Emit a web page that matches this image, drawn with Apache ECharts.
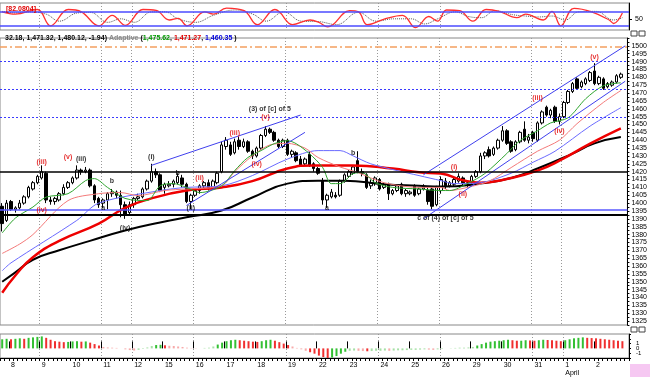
<!DOCTYPE html>
<html>
<head>
<meta charset="utf-8">
<script src="https://cdn.jsdelivr.net/npm/echarts@6/dist/echarts.min.js"></script>
<style>
html,body{margin:0;padding:0;background:#fff;}
#chart{width:650px;height:377px;}
</style>
</head>
<body>
<div id="chart"></div>
<script>
var FONT = 'Liberation Sans';

// trading days shown (first one only partly), hourly bars
var dayNames = ['5','8','9','10','11','12','15','16','17','18','19','22','23','24','25','26','29','30','31','1','2'];
var hours = ['10:00','11:00','12:00','13:00','14:00','15:00','16:00'];
// day boundaries that carry a dotted grid line
var gridDays = [9, 23, 30, 44, 65, 86, 100, 121, 128];

// hourly candles: [open, close, low, high]
var candles = [
 [1398,1387,1382,1400],[1389,1400,1388,1402],
 [1401,1396,1395,1402],[1396,1397,1394,1398],[1397,1400,1396,1402],[1400,1404,1399,1405],[1404,1410,1403,1411],[1409,1413,1408,1414],[1413,1417,1412,1418],
 [1416,1420,1415,1424],[1419,1402,1400,1420],[1402,1401,1399,1404],[1401,1403,1399,1404],[1402,1406,1401,1407],[1406,1410,1405,1412],[1410,1413,1409,1414],
 [1413,1416,1412,1417],[1416,1421,1415,1424],[1421,1420,1418,1422],[1420,1421,1419,1423],[1421,1411,1410,1422],[1411,1402,1400,1412],[1403,1399,1397,1404],
 [1400,1402,1397,1403],[1402,1406,1396,1407],[1406,1407,1404,1409],[1407,1405,1403,1408],[1405,1399,1391,1408],[1399,1393,1390,1401],[1394,1399,1392,1401],
 [1399,1403,1397,1404],[1403,1404,1402,1406],[1404,1409,1403,1410],[1409,1414,1408,1415],[1414,1420,1413,1425],[1420,1418,1416,1422],[1418,1408,1407,1419],
 [1410,1412,1406,1413],[1411,1412,1410,1414],[1412,1414,1410,1415],[1413,1417,1412,1419],[1416,1412,1410,1418],[1412,1401,1400,1413],[1401,1405,1396,1406],
 [1405,1408,1404,1409],[1408,1411,1406,1412],[1411,1413,1409,1414],[1413,1410,1408,1415],[1410,1414,1409,1415],[1413,1419,1412,1420],[1420,1437,1419,1439],
 [1436,1440,1434,1442],[1437,1431,1430,1439],[1432,1439,1431,1441],[1440,1436,1434,1442],[1436,1439,1435,1441],[1439,1433,1432,1440],[1433,1430,1428,1434],
 [1430,1435,1429,1436],[1435,1443,1434,1444],[1443,1447,1442,1449],[1447,1445,1444,1448],[1445,1440,1439,1446],[1440,1436,1435,1441],[1436,1440,1435,1441],
 [1440,1431,1430,1441],[1431,1433,1429,1434],[1432,1427,1426,1433],[1428,1424,1423,1430],[1425,1428,1424,1429],[1431,1424,1423,1433],[1425,1422,1420,1426],
 [1422,1419,1418,1423],[1414,1402,1399,1416],[1402,1405,1397,1406],[1404,1407,1403,1409],[1405,1404,1403,1407],[1405,1414,1404,1415],[1414,1418,1413,1419],
 [1417,1420,1416,1421],[1419,1423,1418,1424],[1427,1420,1419,1433],[1420,1419,1417,1422],[1418,1410,1409,1419],[1411,1413,1409,1415],[1413,1416,1411,1417],
 [1415,1409,1408,1416],[1410,1412,1409,1413],[1412,1406,1402,1413],[1406,1408,1405,1409],[1408,1411,1407,1412],[1412,1406,1405,1413],[1406,1408,1404,1409],
 [1406,1407,1405,1408],[1411,1405,1404,1412],[1406,1409,1405,1410],[1409,1410,1408,1412],[1408,1401,1399,1410],[1409,1398,1396,1410],[1399,1410,1398,1411],
 [1408,1415,1406,1417],[1414,1411,1409,1416],[1411,1413,1410,1414],[1412,1415,1411,1416],[1414,1417,1413,1419],[1416,1413,1411,1417],[1412,1413,1410,1414],
 [1413,1417,1412,1418],[1417,1420,1416,1421],[1420,1430,1419,1432],[1430,1432,1428,1433],[1434,1430,1429,1436],[1431,1435,1430,1436],[1435,1440,1434,1441],
 [1440,1446,1439,1449],[1446,1438,1437,1447],[1439,1433,1432,1440],[1434,1439,1433,1440],[1439,1445,1438,1446],[1447,1440,1439,1452],[1440,1442,1438,1444],
 [1445,1441,1439,1446],[1440,1451,1439,1452],[1451,1458,1450,1459],[1461,1456,1455,1462],[1456,1459,1454,1460],[1461,1452,1451,1462],[1452,1455,1450,1457],
 [1455,1464,1454,1465],[1464,1471,1463,1472],[1471,1476,1470,1477],[1479,1473,1472,1480],[1474,1477,1473,1478],[1476,1479,1475,1480],[1478,1483,1477,1484],
 [1484,1476,1475,1489],[1476,1480,1475,1481],[1479,1473,1472,1480],[1474,1476,1473,1477],[1475,1477,1474,1478],[1477,1481,1476,1482],[1480,1482,1479,1483]
];

// moving averages: [bar, price]
var maGreen = [[0,1381],[3,1390.5],[7,1397.5],[10,1403.8],[15,1406],[19,1414.3],[21,1415.6],[24,1410],[28,1403],[33,1401.6],[36,1411],[39,1412.4],[42,1410],[45,1406.7],[50,1411],[53,1420.7],[56,1429],[59,1433.4],[62,1437.8],[65,1439.7],[67,1437.8],[70,1431.5],[73,1422.8],[75,1412.4],[77,1412.4],[80,1418.8],[82,1419.4],[85,1413],[89,1410],[95,1409],[100,1408],[102,1408],[106,1412.4],[110,1418.8],[115,1431.5],[118,1439.7],[122,1446],[125,1451],[129,1454.3],[133,1466.4],[137,1474.6],[141,1476.5]];
var maPink = [[0,1368],[4,1374],[7,1380],[15,1401.6],[22,1406],[27,1406.7],[31,1404.8],[37,1408],[42,1409],[50,1411],[53,1420],[57,1430],[61,1437],[65,1438],[69,1435],[72,1429],[77,1423],[81,1419.5],[87,1413],[95,1410],[100,1410],[102,1408],[106,1410],[111,1414],[116,1422.6],[122,1433],[127,1440],[131,1450.5],[137,1464],[141,1471.6]];
var maBlue = [[0,1357],[2,1362],[17,1389],[22,1400],[36,1408],[42,1410],[50,1411],[57,1417.5],[65,1428],[72,1433.4],[77,1433.4],[80,1430],[84,1425],[90,1420.7],[95,1417.5],[100,1414.3],[103,1412.4],[109,1413],[116,1419],[121,1426],[126,1433],[134,1449],[141,1460.7]];
var maRed = [[0,1343],[3,1354],[7,1365.6],[13,1376],[22,1387],[28,1397],[34,1403],[42,1408],[50,1410],[57,1414],[65,1422],[71,1424],[80,1424],[89,1422],[95,1419.6],[100,1418.8],[105,1414.5],[109,1413],[116,1416],[122,1420.7],[127,1427],[134,1437.8],[141,1447.5]];
var maBlack = [[0,1350],[3,1356],[7,1364],[13,1370],[20,1376],[28,1382.6],[36,1387.7],[42,1391],[50,1395.3],[57,1403.6],[65,1412.4],[72,1414.3],[78,1414.3],[87,1412],[95,1411],[100,1410.5],[109,1412.4],[116,1416],[122,1422],[130,1431.5],[135,1438],[141,1442]];

// drawn trend lines: [bar, price]
var trendUpLeft = [[34,1424],[68,1456]];
var trendLowLeft = [[42,1398.5],[69,1445]];
var channelTop = [[96,1418],[142,1500]];
var channelBottom = [[96,1390],[142,1477.5]];

// horizontal levels
var levelsDotted = [1490.5, 1472.5, 1454.5];
var levelDashDot = 1499.3;
var levelBlack = [1420, 1392.3];
var levelBlue = 1396;

// wave labels: [bar, price, text]
var redLabels = [[9,1426,'(iii)'],[15,1429,'(v)'],[9,1395.3,'(iv)'],[45,1416,'(ii)'],[53,1444.8,'(iii)'],[58,1425,'(iv)'],[60,1455,'(v)'],[103,1423,'(i)'],[105,1406,'(ii)'],[122,1467,'(iii)'],[127,1446,'(iv)'],[135,1493,'(v)']];
var blackLabels = [[18,1428.3,'(iii)'],[25,1414.3,'b'],[23,1396.6,'a'],[28,1384,'(iv)'],[34,1429,'(i)'],[40,1419.4,'b'],[43,1396.6,'(ii)'],[61,1460,'(3) of [c] of 5'],[74,1396.6,'a'],[80,1432.1,'b'],[101,1390.2,'c of (4) of [c] of 5']];

// oscillator (top panel): [bar, value]
var oscFast = [[0,80],[3,70],[8,90],[11,20],[15,90],[18,80],[22,20],[25,65],[28,22],[32,90],[35,86],[38,45],[40,52],[42,20],[46,80],[48,70],[51,96],[55,85],[58,25],[62,90],[63,80],[66,25],[70,45],[72,35],[74,15],[79,85],[81,80],[83,25],[87,50],[91,65],[94,12],[97,60],[99,40],[101,88],[104,85],[107,40],[110,90],[113,82],[117,55],[119,70],[123,45],[125,82],[127,20],[130,95],[134,80],[138,45],[139,30],[141,75]];
var oscSlow = [[0,82],[3,75],[6,80],[10,70],[13,40],[17,75],[20,78],[24,35],[27,50],[30,35],[34,80],[37,80],[40,50],[44,35],[48,65],[53,88],[57,70],[60,40],[64,80],[68,40],[72,38],[76,25],[81,78],[85,40],[89,50],[93,50],[96,28],[99,50],[103,80],[106,60],[109,55],[112,85],[116,68],[119,62],[122,58],[125,62],[128,45],[131,80],[135,82],[139,45],[141,55]];
var oscBands = [80, 20];

// histogram (bottom panel), one value per bar
var histValues = [
 1.9,2.0,1.9,2.0,2.1,2.0,2.2,2.3,2.4,2.5,
 2.2,1.8,1.5,1.4,1.3,1.35,1.45,1.5,1.4,1.45,1.2,0.9,0.6,
 0.3,0.2,0.15,0.1,0.0,-0.2,-0.35,-0.45,-0.3,-0.1,
 0.2,0.5,0.7,0.75,0.65,0.55,0.5,0.4,0.3,0.15,
 0.05,-0.05,0.0,0.1,0.15,
 0.4,0.8,1.2,1.5,1.7,1.8,1.7,1.6,1.5,1.4,1.35,1.5,1.7,1.8,1.6,1.3,1.0,0.7,0.4,0.1,
 -0.2,-0.5,-0.8,-1.1,-1.5,-1.8,-2.0,-1.9,-1.6,-1.1,-0.7,-0.5,-0.45,
 -0.5,-0.55,-0.6,-0.55,-0.5,-0.5,-0.45,-0.5,-0.45,-0.4,-0.4,-0.35,-0.3,-0.3,-0.25,-0.2,-0.25,-0.3,-0.2,-0.1,
 0.0,0.05,0.1,0.15,0.15,0.2,0.3,
 0.6,0.9,1.2,1.4,1.5,1.6,1.7,1.8,1.7,1.6,1.6,1.7,1.65,1.6,1.7,1.8,1.75,1.7,1.6,1.5,1.7,1.9,2.1,2.2,2.3,2.2,2.15,2.1,2.0,1.9,1.8,1.7,1.6,1.5
];
var histTicks = [-1, 0, 1];

var mainTicks = [];
for (var t = 1325; t <= 1500; t += 5) mainTicks.push(t);

var categories = [];
var dayStarts = {};
dayNames.forEach(function(d, k){
	var hs = k === 0 ? hours.slice(5) : hours;
	if (k > 0) dayStarts[categories.length] = d;
	hs.forEach(function(h){ categories.push(d + ' ' + h); });
});
categories.push('');

var isGridDay = function(i){ return gridDays.indexOf(i) >= 0; };
var isDayStart = function(i){ return dayStarts[i] !== undefined; };

function catAxis(gi, extra){
	var ax = {
		type: 'category', gridIndex: gi, data: categories,
		axisLine: {show: false}, axisTick: {show: false}, axisLabel: {show: false},
		splitLine: {show: true, interval: isGridDay, lineStyle: {color: '#999', type: [1,2], width: 1}}
	};
	for (var k in extra) ax[k] = extra[k];
	return ax;
}

function labelData(list){
	return list.map(function(r){ return {name: r[2], value: [r[0], r[1]]}; });
}

function lineSeries(data, color, width, extra){
	var s = {
		type: 'line', xAxisIndex: 1, yAxisIndex: 1, data: data, showSymbol: false,
		smooth: 0.3, silent: true, lineStyle: {color: color, width: width}
	};
	for (var k in extra) s[k] = extra[k];
	return s;
}

function labelSeries(list, color){
	return {
		type: 'scatter', xAxisIndex: 1, yAxisIndex: 1, data: labelData(list), symbolSize: 0, silent: true, z: 10,
		itemStyle: {color: 'rgba(0,0,0,0)'},
		label: {show: true, position: 'inside', formatter: '{b}', color: color, fontSize: 7, fontWeight: 'bold', fontFamily: FONT}
	};
}

var levelLines = [];
levelsDotted.forEach(function(v){
	levelLines.push({yAxis: v, lineStyle: {color: '#3a3aff', type: [2,2], width: 1}});
});
levelLines.push({yAxis: levelDashDot, lineStyle: {color: '#f3a060', type: [7,3,2,3], width: 1.5}});
levelLines.push({yAxis: levelBlue, lineStyle: {color: '#5a5aff', type: 'solid', width: 1.5}});
levelBlack.forEach(function(v, i){
	levelLines.push({yAxis: v, lineStyle: {color: '#000', type: 'solid', width: i ? 2 : 1.5}});
});

var chart = echarts.init(document.getElementById('chart'));
var option = {
	animation: false,
	backgroundColor: '#fff',
	title: [
		{
			text: '[82.0804]', left: 1, top: 1,
			textStyle: {color: '#e00000', fontSize: 7, fontWeight: 'bold', fontFamily: FONT}
		},
		{
			text: '{k|32.18, 1,471.32, 1,480.12, -1.94)} {a|Adaptive} {k|(}{g|1,475.62}{k|,} {r|1,471.27}{k|,} {b|1,460.35}{k| )}',
			left: 0, top: 30,
			textStyle: {
				fontSize: 7, fontFamily: FONT,
				rich: {
					k: {color: '#000', fontSize: 7, fontWeight: 'bold', fontFamily: FONT},
					a: {color: '#888', fontSize: 7, fontFamily: FONT},
					g: {color: '#009900', fontSize: 7, fontWeight: 'bold', fontFamily: FONT},
					r: {color: '#e00000', fontSize: 7, fontWeight: 'bold', fontFamily: FONT},
					b: {color: '#0000dd', fontSize: 7, fontWeight: 'bold', fontFamily: FONT}
				}
			}
		}
	],
	grid: [
		{left: 0, right: 21, top: 3, height: 27, show: true, borderColor: '#888', borderWidth: 1},
		{left: 0, right: 21, top: 38, height: 287, show: true, borderColor: '#888', borderWidth: 1},
		{left: 0, right: 21, top: 334, height: 28, show: true, borderColor: '#888', borderWidth: 1}
	],
	xAxis: [
		catAxis(0, {}),
		catAxis(1, {}),
		catAxis(2, {
			axisLine: {show: true, onZero: false, lineStyle: {color: '#000', width: 1}},
			axisTick: {show: true, interval: 0, length: 3, lineStyle: {color: '#000'}},
			axisLabel: {
				show: true, interval: isDayStart, align: 'left', margin: 3,
				fontSize: 7, fontFamily: FONT, color: '#000', lineHeight: 8,
				formatter: function(v, i){
					var d = dayStarts[i];
					return d === '1' ? '1\nApril' : d;
				}
			}
		}),
		catAxis(2, {
			splitLine: {show: false},
			axisTick: {show: true, interval: isDayStart, length: 7, lineStyle: {color: '#000'}}
		})
	],
	yAxis: [
		{
			type: 'value', gridIndex: 0, position: 'right', min: 2, max: 118,
			splitLine: {show: false},
			axisLine: {show: true, lineStyle: {color: '#000'}},
			axisTick: {show: true, length: 3, customValues: [50]},
			axisLabel: {customValues: [50], fontSize: 7, fontFamily: FONT, color: '#000', margin: 6}
		},
		{
			type: 'value', gridIndex: 1, position: 'right', min: 1322.5, max: 1505, interval: 2.5,
			splitLine: {show: false},
			axisLine: {show: true, lineStyle: {color: '#000'}},
			axisTick: {show: true, length: 2, lineStyle: {color: '#000'}},
			axisLabel: {
				fontSize: 7, fontFamily: FONT, color: '#000', margin: 4,
				formatter: function(v){
					var r = Math.round(v * 10);
					return (r % 50 === 0 && mainTicks.indexOf(r / 10) >= 0) ? String(r / 10) : '';
				}
			}
		},
		{
			type: 'value', gridIndex: 2, position: 'right', min: -2, max: 3, interval: 1,
			splitLine: {show: false},
			axisLine: {show: true, lineStyle: {color: '#000'}},
			axisTick: {show: true, length: 2},
			axisLabel: {
				fontSize: 6, fontFamily: FONT, color: '#000', margin: 7, showMinLabel: true, showMaxLabel: true,
				formatter: function(v){ return histTicks.indexOf(v) >= 0 ? String(v) : ''; }
			}
		}
	],
	graphic: [
		{type: 'rect', shape: {x: 630, y: 364, width: 20, height: 13}, style: {fill: '#f6c8f2'}, silent: true},
		{type: 'rect', shape: {x: 631, y: 31, width: 6, height: 5}, style: {fill: '#fff', stroke: '#444', lineWidth: 1}, silent: true},
		{type: 'rect', shape: {x: 639, y: 31, width: 6, height: 5}, style: {fill: '#fff', stroke: '#444', lineWidth: 1}, silent: true},
		{type: 'rect', shape: {x: 631, y: 327, width: 6, height: 5}, style: {fill: '#fff', stroke: '#444', lineWidth: 1}, silent: true},
		{type: 'rect', shape: {x: 639, y: 327, width: 6, height: 5}, style: {fill: '#fff', stroke: '#444', lineWidth: 1}, silent: true}
	],
	series: [
		{
			type: 'line', xAxisIndex: 0, yAxisIndex: 0, data: oscSlow, showSymbol: false, smooth: 0.4, silent: true,
			lineStyle: {color: '#555', width: 1, type: [1,1]}
		},
		{
			type: 'line', xAxisIndex: 0, yAxisIndex: 0, data: oscFast, showSymbol: false, smooth: 0.4, silent: true,
			lineStyle: {color: '#ff3030', width: 1.3},
			markLine: {
				silent: true, symbol: ['none','none'], label: {show: false},
				data: oscBands.map(function(v){ return {yAxis: v}; }),
				lineStyle: {color: '#4b4bff', type: 'solid', width: 1.5}
			}
		},
		{
			type: 'candlestick', xAxisIndex: 1, yAxisIndex: 1, data: candles, barWidth: 3, silent: true,
			itemStyle: {color: '#fff', color0: '#000', borderColor: '#000', borderColor0: '#000', borderWidth: 1},
			markLine: {silent: true, symbol: ['none','none'], label: {show: false}, data: levelLines}
		},
		lineSeries(maBlack, '#000', 2, {smooth: 0.5}),
		lineSeries(maRed, '#ee0000', 2.5, {smooth: 0.5}),
		lineSeries(maBlue, '#6b6bff', 1),
		lineSeries(maPink, '#f47a7a', 1),
		lineSeries(maGreen, '#2fa52f', 1),
		lineSeries(trendUpLeft, '#4040ee', 1, {smooth: false}),
		lineSeries(trendLowLeft, '#4040ee', 1, {smooth: false}),
		lineSeries(channelTop, '#4040ee', 1, {smooth: false}),
		lineSeries(channelBottom, '#4040ee', 1, {smooth: false}),
		labelSeries(redLabels, '#e00000'),
		labelSeries(blackLabels, '#000'),
		{
			type: 'bar', xAxisIndex: 2, yAxisIndex: 2, barWidth: 2, silent: true,
			data: histValues.map(function(v, i){
				var prev = i > 0 ? histValues[i - 1] : v;
				var up = v >= prev;
				var pale = Math.abs(v) < 0.6;
				var c = up ? (pale ? '#a6e0a6' : '#33c033') : (pale ? '#f7aaaa' : '#f03030');
				return {value: v, itemStyle: {color: c}};
			})
		}
	]
};
chart.setOption(option);
</script>
</body>
</html>
